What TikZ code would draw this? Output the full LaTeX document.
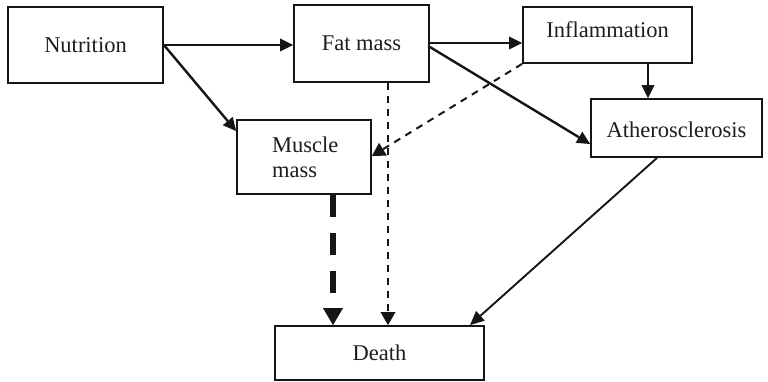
\documentclass[tikz,border=0pt]{standalone}
\usepackage{fontspec}
\setmainfont{Liberation Serif}
\usetikzlibrary{arrows.meta}
\definecolor{ink}{HTML}{151515}
\definecolor{txt}{HTML}{1E1E1E}
\tikzset{
  box/.style={draw=ink, line width=1.8pt, rectangle, inner sep=0pt, fill=white},
  lbl/.style={text=txt, font=\fontsize{22.5}{25}\selectfont, inner sep=0pt},
  solidarr/.style={draw=ink, line width=2.4pt, -{Triangle[length=13pt,width=13pt,line width=0pt]}},
  thinarr/.style={draw=ink, line width=1.9pt, -{Triangle[length=14pt,width=13pt,line width=0pt]}},
  dasharr/.style={draw=ink, line width=2pt, dash pattern=on 7pt off 6pt, -{Triangle[length=13pt,width=15pt,line width=0pt]}},
  thickdash/.style={draw=ink, line width=6.5pt, dash pattern=on 22pt off 16pt, -{Triangle[length=17pt,width=20pt,line width=0pt]}}
}
\begin{document}
\begin{tikzpicture}[x=1pt,y=-1pt]
\useasboundingbox (0,0) rectangle (768,382);
% boxes
\node[box, minimum width=155pt, minimum height=76pt] (nut) at (85.5,45) {};
\node[box, minimum width=135pt, minimum height=77pt] (fat) at (361.5,43.5) {};
\node[box, minimum width=169pt, minimum height=56pt] (inf) at (607.5,35) {};
\node[box, minimum width=171pt, minimum height=58pt] (ath) at (676.5,128) {};
\node[box, minimum width=134pt, minimum height=74pt] (mus) at (304,157) {};
\node[box, minimum width=209pt, minimum height=54pt] (dea) at (379.5,353) {};
% labels
\node[lbl] (tnut) at (85.5,45) {Nutrition};
\node[lbl] (tfat) at (361.5,43) {Fat mass};
\node[lbl] (tinf) at (607.5,30) {Inflammation};
\node[lbl] (tath) at (676.5,130) {Atherosclerosis};
\node[lbl, anchor=west, align=left] (tmus) at (272,157.5) {Muscle\\mass};
\node[lbl] (tdea) at (379.5,353) {Death};
% connector end points
\coordinate (n1) at (nut.east);
\coordinate (f1) at (fat.west |- n1);
\coordinate (m1) at (mus.west |- 0,131);
\coordinate (f2) at (fat.east |- 0,43);
\coordinate (i2) at (inf.west |- 0,43);
\coordinate (f3) at (fat.east |- 0,47);
\coordinate (a3) at (ath.west |- 0,144);
\coordinate (i4) at (inf.south -| 648,0);
\coordinate (a4) at (ath.north -| 648,0);
\coordinate (i5) at (inf.south west);
\coordinate (m5) at (mus.east |- 0,156);
\coordinate (f6) at (fat.south -| 388,0);
\coordinate (d6) at (dea.north -| 388,0);
\coordinate (m7) at (mus.south -| 333,0);
\coordinate (d7) at (dea.north -| 333,0);
\coordinate (a8) at (ath.south -| 657,0);
\coordinate (d8) at (dea.north -| 470,0);
% connectors
\draw[solidarr] (n1) -- (f1);
\draw[solidarr] (n1) -- (m1);
\draw[solidarr] (f2) -- (i2);
\draw[solidarr] (f3) -- (a3);
\draw[solidarr] (i4) -- (a4);
\draw[dasharr] (i5) -- (m5);
\draw[dasharr] (f6) -- (d6);
\draw[thickdash] (m7) -- (d7);
\draw[thinarr] (a8) -- (d8);
\end{tikzpicture}
\end{document}
